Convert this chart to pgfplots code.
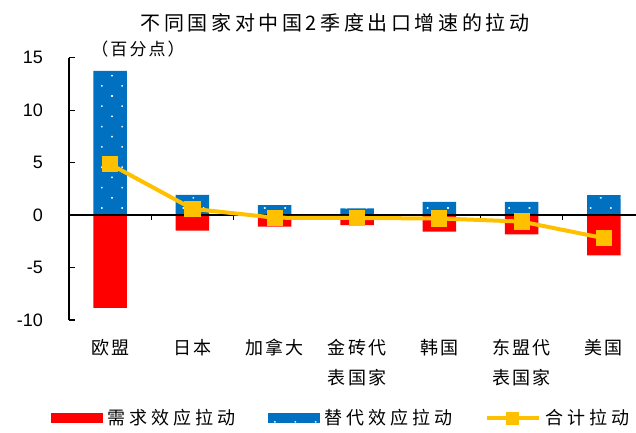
\documentclass[border=0pt]{standalone}
\usepackage{fontspec}
\setmainfont{Liberation Sans}
\newfontfamily\arialf{Liberation Sans}
\newfontfamily\cjktitle[LetterSpace=18]{Noto Sans CJK SC}
\newfontfamily\cjklab[LetterSpace=12]{Noto Sans CJK SC}
\newfontfamily\cjkleg[LetterSpace=22]{Noto Sans CJK SC}
\usepackage{pgfplots}
\pgfplotsset{compat=1.18}
\usetikzlibrary{patterns.meta}
\definecolor{cred}{HTML}{FF0000}
\definecolor{cblue}{HTML}{0070C0}
\definecolor{cyel}{HTML}{FFC000}
\pgfplotsset{
  barleg/.style={legend image code/.code={\fill[##1] (0pt,-5pt) rectangle (52pt,5pt);}},
  lineleg/.style={legend image code/.code={\draw[##1, mark size=6pt, mark repeat=2, mark phase=2] plot coordinates {(0pt,0pt) (26pt,0pt) (52pt,0pt)};}},
}
\begin{document}
\begin{tikzpicture}
\useasboundingbox (-69pt,-112pt) rectangle (567pt,320pt);
\begin{axis}[
  at={(0pt,0pt)}, anchor=south west,
  scale only axis, width=567pt, height=262.3pt,
  xmin=-0.5, xmax=6.39, ymin=-10, ymax=15,
  axis lines=left,
  axis line style={-, line width=1.2pt, black},
  x axis line style={draw=none},
  ytick={-10,-5,0,5,10,15},
  yticklabels={-10,-5,0,5,10,15},
  tick align=inside,
  major tick length=6pt,
  ytick style={line width=1.2pt, black},
  xtick={0,1,2,3,4,5,6},
  xtick style={draw=none},
  xticklabels={欧盟,日本,加拿大,金砖代\\表国家,韩国,东盟代\\表国家,美国},
  xticklabel style={font=\cjklab\fontsize{18}{30}\selectfont, align=center, anchor=north, inner sep=0pt, yshift=-19pt},
  yticklabel style={font=\arialf\fontsize{18}{20}\selectfont, anchor=east, inner sep=0pt, xshift=-26pt},
  clip=false,
  legend style={at={(axis description cs:0.48,0)}, anchor=center, yshift=-98pt, draw=none, fill=none,
    legend columns=3, font=\cjkleg\fontsize{18}{20}\selectfont,
    /tikz/every odd column/.append style={column sep=3pt},
    /tikz/every even column/.append style={column sep=30pt},
    nodes={inner sep=2pt}},
  legend cell align=left,
]
\addplot[ybar, bar width=33.5pt, bar shift=0pt, fill=cred, draw=none, barleg]
  coordinates {(0,-8.85) (1,-1.49) (2,-1.1) (3,-0.95) (4,-1.58) (5,-1.83) (6,-3.85)};
\addlegendentry{需求效应拉动}
\addplot[ybar, bar width=33.5pt, bar shift=0pt, fill=cblue, draw=none,
  postaction={pattern={Dots[distance=14.4pt, angle=45, radius=1.1pt]}, pattern color=white!90!cblue}, barleg]
  coordinates {(0,13.74) (1,1.92) (2,0.95) (3,0.63) (4,1.26) (5,1.26) (6,1.9)};
\addlegendentry{替代效应拉动}
\addplot[black, line width=1.2pt, forget plot] coordinates {(-0.5,0) (6.39,0)};
\pgfplotsinvokeforeach{0.5,1.5,2.5,3.5,4.5,5.5}{
  \draw[black, line width=1.2pt] (axis cs:#1,0) -- ([yshift=-5pt]axis cs:#1,0);
}
\addplot[cyel, line width=4pt, mark=square*, mark size=7.6pt,
  mark options={solid, line width=0pt, fill=cyel, draw=cyel}, lineleg]
  coordinates {(0,4.85) (1,0.6) (2,-0.25) (3,-0.28) (4,-0.32) (5,-0.62) (6,-2.2)};
\addlegendentry{合计拉动}
\end{axis}
\node[font=\cjktitle\fontsize{20}{24}\selectfont] at (266pt,297pt) {不同国家对中国2季度出口增速的拉动};
\node[font=\cjklab\fontsize{17}{20}\selectfont] at (69pt,271pt) {（百分点）};
\end{tikzpicture}
\end{document}
